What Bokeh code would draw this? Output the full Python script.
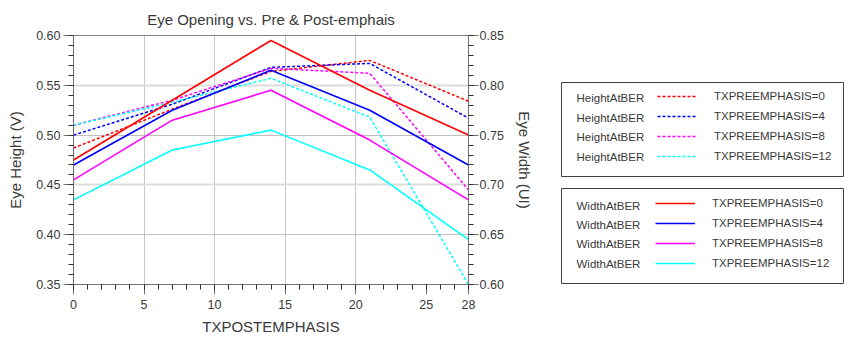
from bokeh.plotting import figure
from bokeh.models import (Range1d, LinearAxis, FixedTicker, Span, PrintfTickFormatter,
                          Legend, LegendItem, Label, BoxAnnotation, Grid)
from bokeh.layouts import row
from bokeh.embed import file_html
from bokeh.resources import INLINE

# ---------------- data ----------------
post_emphasis = [0, 7, 14, 21, 28]
pre_labels = ["TXPREEMPHASIS=0", "TXPREEMPHASIS=4", "TXPREEMPHASIS=8", "TXPREEMPHASIS=12"]

height_pre0 = [0.487, 0.526, 0.564, 0.575, 0.534]
height_pre4 = [0.500, 0.531, 0.568, 0.572, 0.517]
height_pre8 = [0.510, 0.535, 0.567, 0.562, 0.445]
height_pre12 = [0.510, 0.533, 0.557, 0.518, 0.350]

width_pre0 = [0.725, 0.785, 0.845, 0.795, 0.750]
width_pre4 = [0.720, 0.775, 0.815, 0.775, 0.720]
width_pre8 = [0.705, 0.765, 0.795, 0.745, 0.685]
width_pre12 = [0.685, 0.735, 0.755, 0.715, 0.645]

x_ticks = [0, 5, 10, 15, 20, 25, 28]
height_ticks = [0.35, 0.40, 0.45, 0.50, 0.55, 0.60]
width_ticks = [0.60, 0.65, 0.70, 0.75, 0.80, 0.85]
colors = ["#ff0000", "#0000ff", "#ff00ff", "#00ffff"]

FONT = "Liberation Sans"
TXT = "#3a3a3a"
AX = "#707070"

# ---------------- main plot ----------------
p = figure(width=545, height=338, output_backend="svg", toolbar_location=None,
           x_range=Range1d(0, 28), y_range=Range1d(0.35, 0.60),
           min_border_left=73, min_border_right=77, min_border_top=34, min_border_bottom=54,
           outline_line_color=None, background_fill_color="white")
p.title.text = "Eye Opening vs. Pre & Post-emphais"
p.title.align = "center"
p.title.text_font = FONT
p.title.text_font_size = "15px"
p.title.text_font_style = "normal"
p.title.text_color = TXT
p.title.standoff = 16
p.title.offset = 0

p.extra_y_ranges = {"width": Range1d(0.60, 0.85)}
p.add_layout(LinearAxis(y_range_name="width", axis_label="Eye Width (UI)"), "right")

p.xaxis.ticker = FixedTicker(ticks=x_ticks, minor_ticks=list(range(0, 29)))
p.xaxis.axis_label = "TXPOSTEMPHASIS"
p.yaxis[0].axis_label = "Eye Height (V)"
p.yaxis[0].ticker = FixedTicker(ticks=height_ticks,
                                minor_ticks=[round(0.35 + 0.01 * i, 2) for i in range(26)])
p.yaxis[1].ticker = FixedTicker(ticks=width_ticks,
                                minor_ticks=[round(0.60 + 0.01 * i, 2) for i in range(26)])
p.yaxis[0].formatter = PrintfTickFormatter(format="%.2f")
p.yaxis[1].formatter = PrintfTickFormatter(format="%.2f")

for ax in p.axis:
    ax.axis_line_color = AX
    ax.major_tick_line_color = AX
    ax.minor_tick_line_color = "#303030"
    ax.major_tick_out = 10
    ax.major_tick_in = 0
    ax.minor_tick_out = 5
    ax.minor_tick_in = 0
    ax.major_label_text_font = FONT
    ax.major_label_text_font_size = "12.5px"
    ax.major_label_text_color = TXT
    ax.axis_label_text_font = FONT
    ax.axis_label_text_font_size = "15px"
    ax.axis_label_text_font_style = "normal"
    ax.axis_label_text_color = TXT

p.xaxis.major_label_standoff = 5
p.xaxis.axis_label_standoff = 6
p.yaxis[0].major_label_standoff = 3
p.yaxis[0].axis_label_standoff = 9
p.yaxis[1].major_label_standoff = 1
p.yaxis[1].axis_label_standoff = 9

# grids
p.xgrid.ticker = FixedTicker(ticks=[5, 10, 15, 20])
p.xgrid.grid_line_color = "#c8c8c8"
p.ygrid.ticker = FixedTicker(ticks=[0.40, 0.50])
p.ygrid.grid_line_color = "#c0c0c0"
p.add_layout(Grid(dimension=1, y_range_name="width", ticker=FixedTicker(ticks=[0.70, 0.80]),
                  grid_line_color="#dcdcdc", grid_line_width=2))
p.add_layout(Span(location=0.60, dimension="width", line_color="black", line_width=1))

heights = [height_pre0, height_pre4, height_pre8, height_pre12]
widths = [width_pre0, width_pre4, width_pre8, width_pre12]
for c, h in zip(colors, heights):
    p.line(post_emphasis, h, line_color=c, line_width=1.5, line_dash="3 2")
for c, w in zip(colors, widths):
    p.line(post_emphasis, w, line_color=c, line_width=1.6, y_range_name="width")

# ---------------- legend panel (frame aligned with the main plot's frame) ----------------
L = figure(width=304, height=338, output_backend="svg", toolbar_location=None,
           x_range=Range1d(0, 1), y_range=Range1d(0, 1),
           x_axis_location=None, y_axis_location=None,
           min_border=0, outline_line_color=None)
L.grid.visible = False

nan = float("nan")

def make_legend(dash, loc, name, rows, box):
    items = []
    for c, lab in zip(colors, pre_labels):
        r = L.line([nan], [nan], line_color=c, line_width=1.6 if dash is None else 1.5,
                   line_dash=dash if dash else "solid")
        items.append(LegendItem(label=lab, renderers=[r]))
    leg = Legend(items=items, location=loc, margin=0, padding=0, spacing=0,
                 glyph_width=40, glyph_height=20, label_height=20, label_standoff=17,
                 border_line_alpha=0, background_fill_alpha=0,
                 label_text_font=FONT, label_text_font_size="11.5px", label_text_color=TXT)
    L.add_layout(leg)
    for yv in rows:
        L.add_layout(Label(x=31, y=yv, x_units="screen", y_units="screen", text=name,
                           text_baseline="middle", text_font=FONT,
                           text_font_size="11.5px", text_color=TXT))
    L.add_layout(BoxAnnotation(left=box[0], right=box[1], bottom=box[2], top=box[3],
                               left_units="screen", right_units="screen",
                               bottom_units="screen", top_units="screen",
                               fill_color=None, fill_alpha=0, line_color="#404040",
                               line_alpha=1, line_width=1))

make_legend("3 2", (112, 118), "HeightAtBER", [187, 167, 148, 128], (16, 298, 108, 202))
make_legend(None, (110, 11), "WidthAtBER", [79, 60, 41, 21], (16, 298, 1, 96))

layout = row(p, L)
open("out.html", "w").write(file_html(layout, INLINE))
